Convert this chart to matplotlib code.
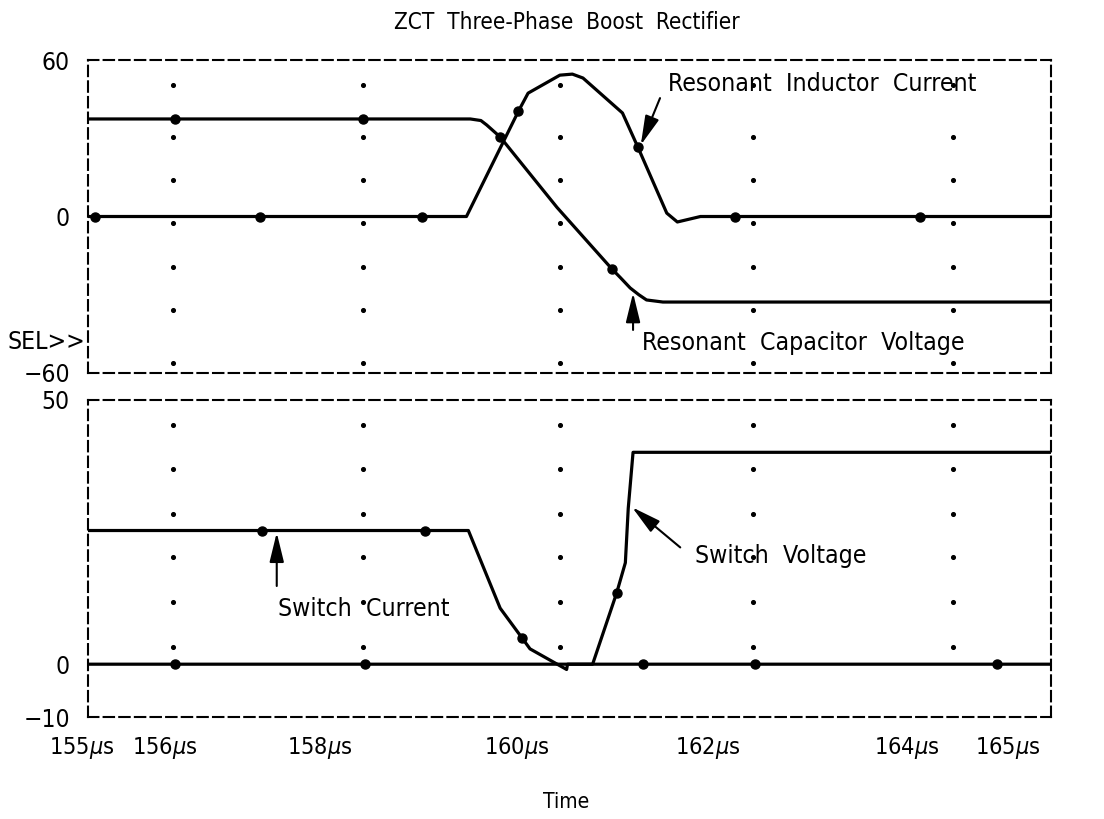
# ZCT three-phase boost rectifier waveforms (PSpice style plot)
import numpy as np
import matplotlib.pyplot as plt
from matplotlib import font_manager as fm
from matplotlib.transforms import ScaledTranslation, blended_transform_factory

# the original uses a narrow plotter font; pick the narrowest one we have
fonts = {(f.name, f.stretch) for f in fm.fontManager.ttflist}
if any(n == 'Liberation Sans Narrow' for n, s in fonts):
    plt.rcParams['font.family'] = ['Liberation Sans Narrow', 'DejaVu Sans']
    plt.rcParams['mathtext.fontset'] = 'custom'
    plt.rcParams['mathtext.rm'] = 'Liberation Sans Narrow'
    plt.rcParams['mathtext.it'] = 'Liberation Sans Narrow:italic'
    k = 1.0
elif ('DejaVu Sans', 'condensed') in fonts:
    plt.rcParams['font.family'] = ['DejaVu Sans']
    plt.rcParams['font.stretch'] = 'condensed'
    k = 0.84
else:
    plt.rcParams['font.family'] = ['DejaVu Sans']
    k = 0.76

# time in microseconds
ind_t = [155.0, 158.93, 159.47, 159.57, 159.90, 160.03, 160.14, 160.55, 160.71, 161.01, 161.12, 161.36, 165.0]
ind_v = [0, 0, 40.4, 47.3, 54.2, 54.6, 53.1, 39.7, 26.6, 1.3, -2.1, 0, 0]
ind_mk = [155.07, 156.79, 158.47, 159.47, 160.71, 161.72, 163.64]

cap_t = [155.0, 158.97, 159.08, 159.14, 159.28, 159.87, 160.44, 160.53, 160.63, 160.72, 160.80, 160.97, 165.0]
cap_v = [37.4, 37.4, 36.8, 35.1, 30.5, 3.5, -20.1, -23.5, -27.4, -30.0, -32.0, -32.8, -32.8]
cap_mk = [155.90, 157.86, 159.28, 160.44]

sc_t = [155.0, 158.95, 159.28, 159.51, 159.59, 159.97, 159.98, 165.0]
sc_v = [25.3, 25.3, 10.6, 4.9, 2.9, -1.0, 0, 0]
sc_mk = [156.81, 158.50, 159.51, 160.76, 161.93, 164.44]

sv_t = [155.0, 160.24, 160.49, 160.58, 160.61, 160.66, 165.0]
sv_v = [0, 0, 13.5, 19.2, 29.5, 40.1, 40.1]
sv_mk = [155.90, 157.88, 160.49]

# dotted grid of the scope screen
grid_cols = [155.88, 157.86, 159.90, 161.91, 163.98]
top_rows = [50.4, 30.5, 14.0, -2.5, -19.4, -35.9, -56.2]
bot_rows = [45.2, 36.9, 28.5, 20.2, 11.8, 3.2]

x_ticks = [155, 156, 158, 160, 162, 164, 165]
x_labels = [r'%d$\mu$s' % v for v in x_ticks]
x_label_shift = [27, 13, -24, -20, -22, -15, -11]  # px, labels sit left of ticks

fig = plt.figure(figsize=(11.04, 8.19), dpi=100)
ax1 = fig.add_axes([0.0797, 0.5446, 0.8723, 0.3821])
ax2 = fig.add_axes([0.0797, 0.1245, 0.8723, 0.3871])


def frame(ax):
    for s in ax.spines.values():
        s.set_linestyle((0, (5, 2.5)))
        s.set_linewidth(1.5)
    ax.tick_params(length=0, pad=13, labelsize=21 * k)
    ax.set_xlim(155, 165)


def trace(ax, t, v, mk):
    ax.plot(t, v, color='black', lw=2.3, solid_joinstyle='round')
    ax.plot(mk, np.interp(mk, t, v), 'o', color='black', ms=6.5)


def dots(ax, rows):
    gx, gy = np.meshgrid(grid_cols, rows)
    ax.scatter(gx.ravel(), gy.ravel(), s=7, color='black', zorder=1)


arrow = dict(arrowstyle='-|>,head_length=0.9,head_width=0.22', color='black',
             lw=1.5, mutation_scale=20, shrinkA=0, shrinkB=0)
fs = 21.2 * k

# top panel
frame(ax1)
dots(ax1, top_rows)
trace(ax1, cap_t, cap_v, cap_mk)
trace(ax1, ind_t, ind_v, ind_mk)
ax1.set_ylim(-60, 60)
ax1.set_yticks([-60, 0, 60])
ax1.set_xticks([])
ax1.annotate('', xy=(160.74, 27.4), xytext=(160.94, 45.4), arrowprops=arrow)
ax1.text(161.02, 50.8, 'Resonant  Inductor  Current', fontsize=fs, va='center', ha='left')
ax1.annotate('', xy=(160.66, -29.3), xytext=(160.66, -43.5), arrowprops=arrow)
ax1.text(160.75, -48.5, 'Resonant  Capacitor  Voltage', fontsize=fs, va='center', ha='left')
ax1.text(154.97, -48.1, 'SEL>>', fontsize=fs, va='center', ha='right', clip_on=False)

# bottom panel
frame(ax2)
dots(ax2, bot_rows)
trace(ax2, sv_t, sv_v, sv_mk)
trace(ax2, sc_t, sc_v, sc_mk)
ax2.set_ylim(-10, 50)
ax2.set_yticks([-10, 0, 50])
ax2.set_xticks(x_ticks)
ax2.set_xticklabels([])
xtrans = blended_transform_factory(ax2.transData, ax2.transAxes)
for xv, lab, dx in zip(x_ticks, x_labels, x_label_shift):
    ax2.text(xv, 0, lab, fontsize=20 * k, ha='right', va='center', clip_on=False,
             transform=xtrans + ScaledTranslation(dx / 100, -0.31, fig.dpi_scale_trans))
ax2.annotate('', xy=(156.96, 24.9), xytext=(156.96, 14.8), arrowprops=arrow)
ax2.text(156.97, 10.5, 'Switch  Current', fontsize=fs, va='center', ha='left')
ax2.annotate('', xy=(160.65, 29.7), xytext=(161.15, 22.1), arrowprops=arrow)
ax2.text(161.30, 20.5, 'Switch  Voltage', fontsize=fs, va='center', ha='left')

fig.text(0.513, 0.973, 'ZCT  Three-Phase  Boost  Rectifier', fontsize=19.3 * k, ha='center', va='center')
fig.text(0.513, 0.021, 'Time', fontsize=18 * k, ha='center', va='center')

plt.savefig('out.png', dpi=100)
